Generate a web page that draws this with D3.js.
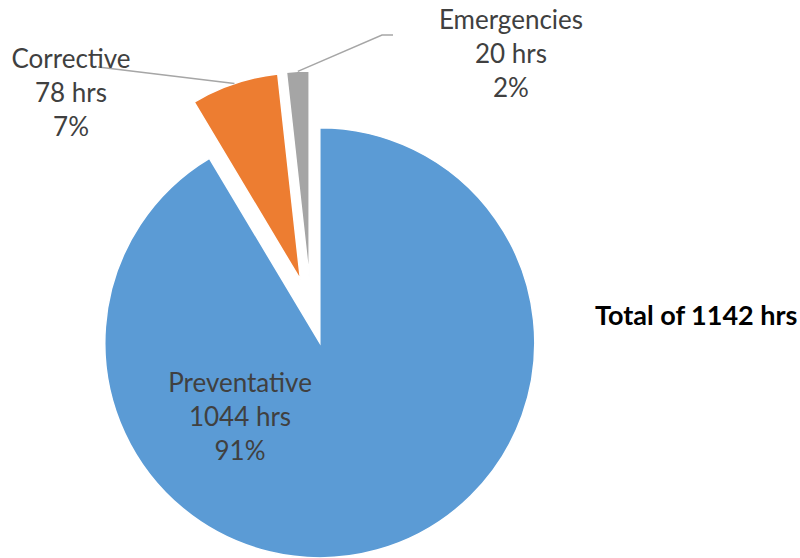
<!DOCTYPE html>
<html>
<head>
<meta charset="utf-8">
<script src="https://cdn.jsdelivr.net/npm/d3@7/dist/d3.min.js"></script>
<style>
  body { margin: 0; background: #fff; }
  svg { display: block; }
  .lbl { font-family: Lato, "Open Sans", sans-serif; font-size: 26px; fill: #404040; }
  .total { font-family: Lato, "Open Sans", sans-serif; font-size: 27px; font-weight: bold; fill: #000; }
</style>
</head>
<body>
<svg id="chart" width="800" height="558"></svg>
<script>
// chart data
const categories = ["Preventative", "Corrective", "Emergencies"];
const hours = [1044, 78, 20];
const colors = ["#5B9BD5", "#ED7D31", "#A5A5A5"];

// layout
const cx = 311, cy = 311;
const explode = 33;
const radius = { Preventative: 215, Corrective: 207, Emergencies: 207 };
// label block anchor (centre x, first baseline) relative to pie centre
const labelAt = { Preventative: [-71, 81], Corrective: [-240, -243], Emergencies: [200, -282] };
// leader line end relative to label anchor, plus short horizontal elbow
const leaderEnd = { Corrective: [27, -1, 0], Emergencies: [-118, 6, 11] };
const lineGap = 34;

const total = d3.sum(hours);
const pct = d3.format(".0%");

const svg = d3.select("#chart");
const g = svg.append("g").attr("transform", "translate(" + cx + "," + cy + ")");

const pie = d3.pie().sort(null).value(function(d) { return d.value; });
const slices = pie(categories.map(function(c, i) { return { name: c, value: hours[i], color: colors[i] }; }));

function dir(d) {
  const a = (d.startAngle + d.endAngle) / 2;
  return [Math.sin(a), -Math.cos(a)];
}

g.selectAll("path.slice")
  .data(slices)
  .enter().append("path")
  .attr("class", "slice")
  .attr("fill", function(d) { return d.data.color; })
  .attr("stroke", "#fff")
  .attr("stroke-width", 1.5)
  .attr("stroke-linejoin", "miter")
  .attr("transform", function(d) {
    const u = dir(d);
    return "translate(" + (u[0] * explode) + "," + (u[1] * explode) + ")";
  })
  .attr("d", function(d) {
    return d3.arc().innerRadius(0).outerRadius(radius[d.data.name])(d);
  });

// leader lines for the outside labels
slices.forEach(function(d) {
  const le = leaderEnd[d.data.name];
  if (!le) return;
  const u = dir(d);
  const r = radius[d.data.name] + explode;
  const p0 = [u[0] * r, u[1] * r];
  const la = labelAt[d.data.name];
  const p2 = [la[0] + le[0], la[1] + le[1]];
  const p1 = [p2[0] - le[2], p2[1]];
  g.append("path")
    .attr("d", d3.line()([p0, p1, p2]))
    .attr("fill", "none")
    .attr("stroke", "#A6A6A6")
    .attr("stroke-width", 1.5);
});

// data labels
slices.forEach(function(d) {
  const la = labelAt[d.data.name];
  const t = g.append("text").attr("class", "lbl").attr("text-anchor", "middle");
  [d.data.name, d.data.value + " hrs", pct(d.data.value / total)].forEach(function(s, i) {
    t.append("tspan").attr("x", la[0]).attr("y", la[1] + i * lineGap).text(s);
  });
});

svg.append("text")
  .attr("class", "total")
  .attr("x", 595)
  .attr("y", 325)
  .text("Total of " + total + " hrs");
</script>
</body>
</html>
